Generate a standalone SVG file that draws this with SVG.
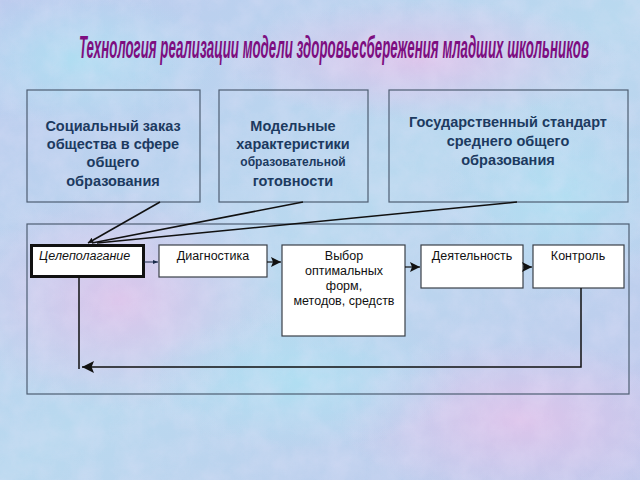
<svg xmlns="http://www.w3.org/2000/svg" width="640" height="480" viewBox="0 0 640 480">
<defs>
<linearGradient id="bg" x1="0" y1="0" x2="1" y2="1">
<stop offset="0" stop-color="#bccbee"/>
<stop offset="0.5" stop-color="#b9d9ef"/>
<stop offset="1" stop-color="#c0c8ec"/>
</linearGradient>
<radialGradient id="pink" cx="0.5" cy="0.5" r="0.5">
<stop offset="0" stop-color="#e2c2ea" stop-opacity="0.85"/>
<stop offset="1" stop-color="#e2c2ea" stop-opacity="0"/>
</radialGradient>
<radialGradient id="cyan" cx="0.5" cy="0.5" r="0.5">
<stop offset="0" stop-color="#aee0f2" stop-opacity="0.85"/>
<stop offset="1" stop-color="#aee0f2" stop-opacity="0"/>
</radialGradient>
<filter id="tex" x="0" y="0" width="100%" height="100%">
<feTurbulence type="fractalNoise" baseFrequency="0.04" numOctaves="4" seed="4"/>
<feColorMatrix type="matrix" values="0 0 0 0 0.86  0 0 0 0 0.78  0 0 0 0 0.96  0 0 0 0.9 -0.25"/>
</filter>
<marker id="ah" viewBox="0 0 10 10" refX="10" refY="5" markerWidth="6" markerHeight="6" orient="auto" markerUnits="userSpaceOnUse">
<path d="M0,0 L10,5 L0,10 L2,5 Z" fill="#111"/>
</marker>
<marker id="ahs" viewBox="0 0 10 10" refX="10" refY="5" markerWidth="5" markerHeight="5" orient="auto" markerUnits="userSpaceOnUse">
<path d="M0,1 L10,5 L0,9 Z" fill="#1a2a4a"/>
</marker>
<marker id="ahb" viewBox="0 0 10 10" refX="10" refY="5" markerWidth="16" markerHeight="12" orient="auto" markerUnits="userSpaceOnUse">
<path d="M0,0 L10,5 L0,10 L2,5 Z" fill="#111"/>
</marker>
<marker id="ahm" viewBox="0 0 10 10" refX="10" refY="5" markerWidth="12" markerHeight="10" orient="auto" markerUnits="userSpaceOnUse">
<path d="M0,0 L10,5 L0,10 L2,5 Z" fill="#111"/>
</marker>
<style>
.top{fill:none;stroke:#4e5e72;stroke-width:1.2}
.tt{font-family:"Liberation Sans",Arial,sans-serif;font-weight:bold;font-size:14.5px;fill:#1c3a60;text-anchor:middle}
.small{font-size:12px}
.wb{fill:#fff;stroke:#3a4048;stroke-width:1.2}
.bt{font-family:"Liberation Sans",Arial,sans-serif;font-size:12.5px;fill:#111;text-anchor:middle}
.lt{text-anchor:start;font-style:italic}
.ln{fill:none;stroke:#111;stroke-width:1.5}
</style>
</defs>
<rect width="640" height="480" fill="url(#bg)"/>
<ellipse cx="120" cy="300" rx="160" ry="110" fill="url(#pink)"/>
<ellipse cx="420" cy="60" rx="200" ry="60" fill="url(#pink)"/>
<ellipse cx="520" cy="420" rx="180" ry="80" fill="url(#pink)"/>
<ellipse cx="300" cy="380" rx="160" ry="70" fill="url(#cyan)"/>
<ellipse cx="80" cy="60" rx="140" ry="70" fill="url(#cyan)"/>
<ellipse cx="560" cy="200" rx="120" ry="100" fill="url(#cyan)"/>
<rect width="640" height="480" filter="url(#tex)" opacity="0.45"/>

<g id="title" transform="translate(334,58) scale(0.4435,1)">
<text x="0" y="0" text-anchor="middle" font-family="Liberation Sans, Arial, sans-serif" font-weight="bold" font-style="italic" font-size="31" fill="#7d0e80" textLength="1150" lengthAdjust="spacingAndGlyphs">Технология реализации модели  здоровьесбережения младших школьников</text>
</g>

<g id="n-social">
<rect class="top" x="27" y="90" width="173" height="112"/>
<text class="tt" x="113" y="131">Социальный заказ</text>
<text class="tt" x="113" y="149">общества в сфере</text>
<text class="tt" x="113" y="167">общего</text>
<text class="tt" x="113" y="186">образования</text>
</g>
<g id="n-model">
<rect class="top" x="219" y="90" width="149" height="112"/>
<text class="tt" x="293" y="131">Модельные</text>
<text class="tt" x="293" y="149">характеристики</text>
<text class="tt small" x="293" y="166">образовательной</text>
<text class="tt" x="293" y="186">готовности</text>
</g>
<g id="n-gos">
<rect class="top" x="389" y="90" width="239" height="112"/>
<text class="tt" x="508" y="127">Государственный стандарт</text>
<text class="tt" x="508" y="146">среднего общего</text>
<text class="tt" x="508" y="165">образования</text>
</g>
<g id="n-container">
<rect class="top" x="27" y="224" width="602" height="170"/>
</g>

<g id="n-goal">
<rect x="31.5" y="245.5" width="112" height="31" fill="#fff" stroke="#111" stroke-width="3"/>
<text class="bt lt" x="39" y="260">Целеполагание</text>
</g>
<g id="n-diag">
<rect class="wb" x="159" y="245" width="108" height="32"/>
<text class="bt" x="213" y="260">Диагностика</text>
</g>
<g id="n-choice">
<rect class="wb" x="282" y="245" width="123" height="91"/>
<text class="bt" x="344" y="260">Выбор</text>
<text class="bt" x="344" y="275">оптимальных</text>
<text class="bt" x="344" y="290">форм,</text>
<text class="bt" x="344" y="305">методов, средств</text>
</g>
<g id="n-act">
<rect class="wb" x="421" y="245" width="102" height="43"/>
<text class="bt" x="472" y="260">Деятельность</text>
</g>
<g id="n-ctrl">
<rect class="wb" x="533" y="245" width="91" height="43"/>
<text class="bt" x="578" y="260">Контроль</text>
</g>

<g id="connectors">
<line x1="160" y1="202" x2="88" y2="243" stroke="#111" stroke-width="1.5" marker-end="url(#ah)"/>
<line x1="303" y1="202" x2="92" y2="243" stroke="#111" stroke-width="1.5"/>
<line x1="517" y1="202" x2="97" y2="243" stroke="#111" stroke-width="1.5"/>
<line x1="144" y1="262" x2="158" y2="262" stroke="#1a2a4a" stroke-width="1" marker-end="url(#ahs)"/>
<line x1="267" y1="262" x2="281" y2="262" stroke="#111" stroke-width="1.2" marker-end="url(#ahm)"/>
<line x1="405" y1="267" x2="420" y2="267" stroke="#111" stroke-width="1.2" marker-end="url(#ahm)"/>
<line x1="523" y1="267" x2="532" y2="267" stroke="#111" stroke-width="1.2" marker-end="url(#ahm)"/>
<polyline class="ln" points="581,288 581,367 82,367" marker-end="url(#ahb)"/>
<line x1="79" y1="277" x2="79" y2="369" stroke="#111" stroke-width="1.5"/>
</g>
</svg>
